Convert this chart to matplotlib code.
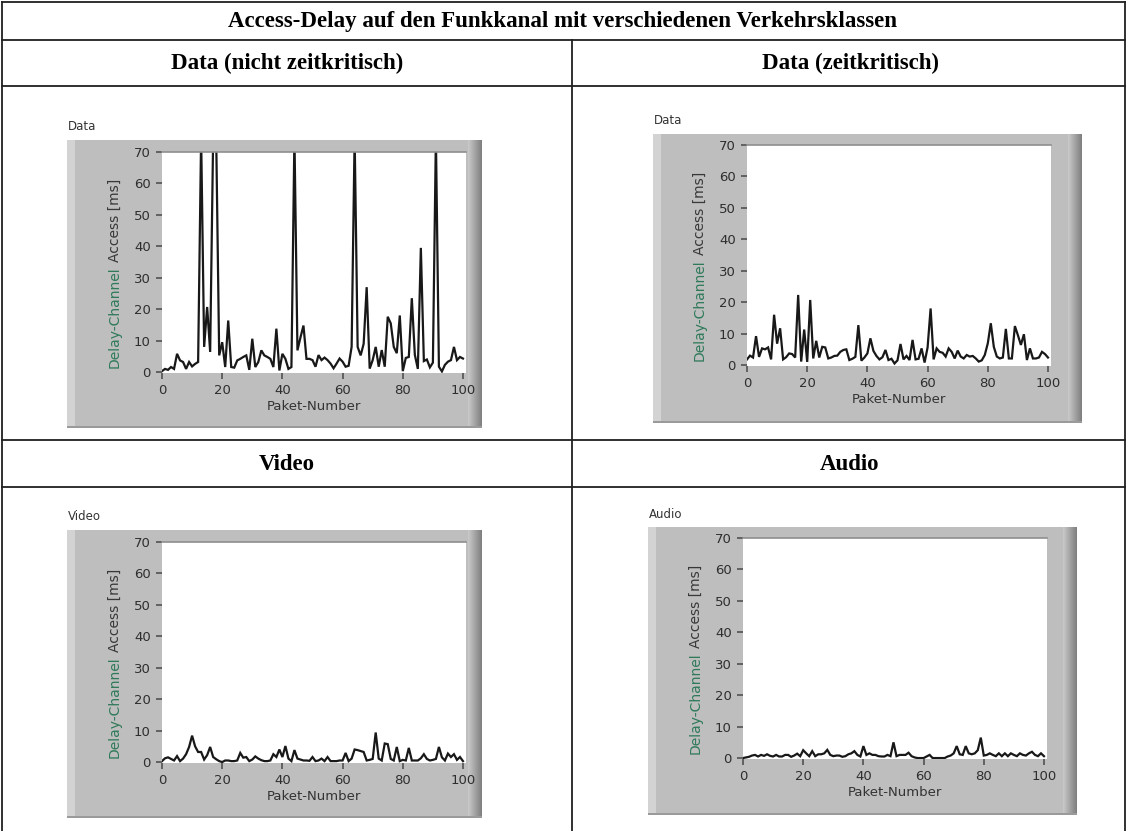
import numpy as np
import matplotlib.pyplot as plt
from matplotlib.patches import Rectangle

W, H = 1127, 831

paket = np.arange(101)

# access delay per packet [ms]; values above 70 run off the top of the graph
data_nicht_zeitkritisch = [
    0.3, 1.0, 0.7, 1.6, 1.0, 5.8, 3.7, 3.2, 1.0, 3.2,
    1.8, 2.6, 3.2, 75.0, 8.0, 20.7, 6.4, 75.0, 75.0, 5.3,
    9.5, 1.6, 16.4, 1.6, 1.4, 3.7, 4.2, 4.8, 5.3, 0.7,
    10.6, 1.6, 3.2, 6.9, 5.3, 4.8, 4.2, 1.6, 13.8, 0.5,
    5.8, 4.2, 1.0, 1.6, 75.0, 6.9, 11.0, 14.8, 4.2, 4.2,
    3.8, 1.7, 5.4, 3.8, 4.6, 3.8, 2.7, 1.2, 2.7, 4.3,
    3.3, 1.7, 2.0, 8.0, 75.0, 8.0, 5.3, 9.0, 27.0, 1.1,
    3.8, 8.0, 1.7, 7.0, 1.7, 17.6, 15.5, 8.0, 6.0, 18.0,
    0.3, 4.5, 4.8, 23.5, 5.5, 1.0, 39.5, 3.5, 4.0, 1.5,
    3.0, 75.0, 1.7, 0.2, 2.3, 3.3, 3.8, 8.0, 3.8, 4.8,
    4.3,
]
data_zeitkritisch = [
    1.8, 3.0, 2.4, 9.2, 2.6, 5.3, 5.0, 5.6, 1.8, 16.0,
    6.8, 11.7, 1.8, 2.5, 3.7, 3.5, 2.4, 22.3, 1.1, 11.3,
    1.0, 20.7, 2.1, 7.7, 2.4, 5.8, 5.6, 2.1, 2.4, 2.9,
    3.0, 4.2, 4.8, 5.0, 1.6, 2.0, 2.6, 12.7, 1.4, 2.4,
    3.7, 8.5, 4.5, 2.9, 1.8, 2.5, 4.8, 1.6, 2.0, 0.5,
    1.5, 6.7, 1.8, 2.9, 1.6, 8.0, 1.8, 2.0, 5.3, 0.8,
    5.6, 18.0, 1.8, 5.3, 4.2, 3.9, 2.7, 5.3, 4.2, 2.1,
    4.6, 2.7, 2.1, 3.2, 2.7, 2.9, 2.1, 1.1, 1.5, 3.2,
    6.9, 13.3, 5.8, 2.7, 2.1, 2.4, 11.5, 2.1, 2.1, 12.4,
    9.5, 6.4, 9.8, 1.6, 5.3, 2.1, 2.1, 2.4, 4.2, 3.5,
    2.4,
]
video = [
    0.3, 1.2, 1.5, 1.0, 0.5, 1.9, 0.3, 1.1, 2.5, 4.8,
    8.4, 5.0, 3.2, 3.2, 0.8, 2.2, 4.8, 1.6, 0.9, 0.3,
    0.0, 0.5, 0.5, 0.3, 0.3, 0.5, 2.9, 1.4, 1.6, 0.3,
    0.8, 1.8, 1.1, 0.6, 0.3, 0.3, 0.5, 2.5, 1.6, 4.0,
    1.6, 5.1, 1.1, 0.3, 3.8, 1.1, 0.8, 0.5, 0.5, 0.4,
    1.6, 0.3, 0.5, 1.1, 0.3, 1.6, 0.3, 0.3, 0.3, 0.5,
    0.5, 2.9, 0.3, 1.1, 4.0, 3.8, 3.5, 3.2, 0.5, 0.7,
    1.0, 9.4, 1.1, 0.5, 5.9, 5.7, 1.0, 0.5, 4.8, 0.3,
    0.7, 0.5, 4.5, 0.5, 0.5, 0.5, 1.2, 2.5, 1.0, 0.5,
    0.7, 1.0, 4.8, 1.5, 0.5, 2.7, 1.6, 2.5, 0.7, 1.6,
    0.3,
]
audio = [
    0.0, 0.2, 0.4, 0.8, 1.0, 0.5, 1.0, 0.7, 1.2, 0.7,
    0.5, 1.0, 0.5, 0.5, 1.0, 1.0, 0.4, 0.8, 1.4, 0.6,
    2.5, 1.5, 0.6, 2.2, 0.6, 1.2, 1.2, 1.5, 2.6, 1.0,
    0.6, 0.8, 0.8, 0.4, 0.6, 1.2, 1.5, 2.2, 1.0, 0.5,
    3.8, 1.0, 1.5, 1.0, 1.0, 0.6, 0.5, 0.5, 1.0, 0.6,
    5.0, 0.6, 1.0, 1.0, 1.0, 1.7, 0.6, 0.2, 0.0, 0.0,
    0.0, 0.5, 1.0, 0.0, 0.0, 0.0, 0.0, 0.0, 0.5, 0.8,
    1.5, 3.8, 1.2, 1.0, 3.8, 1.5, 1.2, 1.5, 2.5, 6.5,
    0.8, 1.0, 1.5, 1.0, 0.6, 1.5, 0.6, 1.5, 0.6, 1.5,
    1.0, 0.6, 1.5, 1.0, 0.8, 1.5, 2.0, 1.0, 0.6, 1.5,
    0.6,
]

title = 'Access-Delay auf den Funkkanal mit verschiedenen Verkehrsklassen'

# (cell header, graph caption, series, frame box, plot box) -- boxes in pixels
panels = [
    ('Data (nicht zeitkritisch)', 'Data', data_nicht_zeitkritisch,
     (67, 140, 482, 428), (162, 152, 466, 373)),
    ('Data (zeitkritisch)', 'Data', data_zeitkritisch,
     (653, 134, 1082, 423), (747, 145, 1051, 366)),
    ('Video', 'Video', video,
     (67, 530, 482, 818), (162, 542, 466, 763)),
    ('Audio', 'Audio', audio,
     (648, 527, 1077, 815), (743, 538, 1047, 759)),
]
header_pos = [(287, 63), (850, 63), (287, 464), (850, 464)]

UI_FONT = 'DejaVu Sans'
SERIF = 'Liberation Serif'


def fig_rect(x0, y0, x1, y1):
    return [x0 / W, 1 - y1 / H, (x1 - x0) / W, (y1 - y0) / H]


fig = plt.figure(figsize=(W / 100, H / 100), dpi=100)
fig.patch.set_facecolor('white')

# page layer in pixel coordinates (y pointing down)
bg = fig.add_axes([0, 0, 1, 1])
bg.set_xlim(0, W)
bg.set_ylim(H, 0)
bg.axis('off')

line_kw = dict(color='#202020', lw=1.3)
bg.plot([2, 1125], [2, 2], **line_kw)
bg.plot([2, 1125], [40, 40], **line_kw)
bg.plot([2, 1125], [86, 86], **line_kw)
bg.plot([2, 1125], [440, 440], **line_kw)
bg.plot([2, 1125], [487, 487], **line_kw)
bg.plot([2, 2], [2, H], **line_kw)
bg.plot([1125, 1125], [2, H], **line_kw)
bg.plot([572, 572], [40, H], **line_kw)

bg.text(563, 21, title, ha='center', va='center', family=SERIF,
        fontweight='bold', fontsize=16.5)
for (head, *_), (hx, hy) in zip(panels, header_pos):
    bg.text(hx, hy, head, ha='center', va='center', family=SERIF,
            fontweight='bold', fontsize=16.5)

renderer = fig.canvas.get_renderer()

for head, caption, values, frame, box in panels:
    fx0, fy0, fx1, fy1 = frame
    px0, py0, px1, py1 = box

    # grey graph frame with bevelled edges
    bg.add_patch(Rectangle((fx0, fy0), fx1 - fx0, fy1 - fy0,
                           facecolor='#bebebe', edgecolor='none', zorder=1))
    bg.add_patch(Rectangle((fx0, fy0), 8, fy1 - fy0,
                           facecolor='#d3d3d3', edgecolor='none', zorder=2))
    shade = np.linspace(0.78, 0.50, 14)[None, :]
    bg.imshow(shade, cmap='gray', vmin=0, vmax=1, aspect='auto',
              extent=(fx1 - 14, fx1, fy1, fy0), zorder=2)
    bg.add_patch(Rectangle((fx0, fy1 - 2), fx1 - fx0, 2,
                           facecolor='#9a9a9a', edgecolor='none', zorder=3))
    bg.text(fx0 + 1, fy0 - 13, caption, ha='left', va='center',
            family=UI_FONT, fontsize=8.5, color='#333333')

    ax = fig.add_axes(fig_rect(px0, py0, px1, py1))
    ax.plot(paket, values, color='#181818', lw=1.6, solid_joinstyle='miter')
    ax.set_xlim(0, 101)
    ax.set_ylim(-0.3, 70)
    ax.set_xticks(range(0, 101, 20))
    ax.set_yticks(range(0, 71, 10))
    ax.tick_params(direction='out', length=4, width=1.3, color='#5a5a5a',
                   labelsize=9.5, labelcolor='#2e2e2e', pad=4)
    for lab in ax.get_xticklabels() + ax.get_yticklabels():
        lab.set_family(UI_FONT)
    for side in ('left', 'right', 'bottom'):
        ax.spines[side].set_visible(False)
    ax.spines['top'].set_color('#8f8f8f')
    ax.spines['top'].set_linewidth(1.2)
    ax.set_xlabel('Paket-Number', family=UI_FONT, fontsize=9.5,
                  color='#333333', labelpad=2)

    # two-coloured axis title, stacked bottom to top
    lx = (px0 - 47) / W
    ly = 1 - (py1 - 5) / H
    t1 = fig.text(lx, ly, 'Delay-Channel', rotation=90, ha='center',
                  va='bottom', family=UI_FONT, fontsize=10, color='#2f7a5a')
    bb = t1.get_window_extent(renderer)
    fig.text(lx, (bb.y1 + 4) / H, 'Access [ms]', rotation=90,
             ha='center', va='bottom', family=UI_FONT, fontsize=10,
             color='#383838')

bg.set_xlim(0, W)
bg.set_ylim(H, 0)

fig.savefig('out.png', dpi=100)
